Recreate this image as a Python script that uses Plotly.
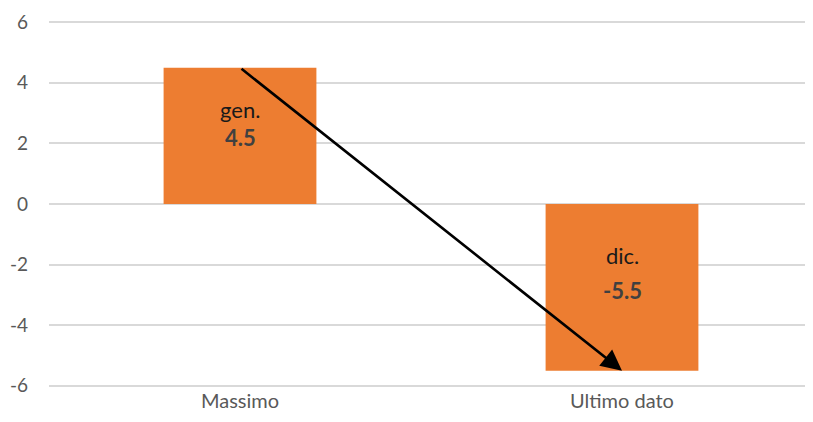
import plotly.graph_objects as go

categories = ["Massimo", "Ultimo dato"]
values = [4.5, -5.5]
months = ["gen.", "dic."]
month_label_y = [3.12, -1.7]
value_label_y = [2.2, -2.85]
tick_vals = [-6, -4, -2, 0, 2, 4, 6]
tick_text = ["-6", "-4", "-2", "0", "2", "4", "6"]

fig = go.Figure()
fig.add_trace(go.Bar(
    x=categories, y=values, marker_color="#ED7D31", width=0.4,
    marker_line_width=0, hoverinfo="skip", showlegend=False,
))

annotations = []
for i, cat in enumerate(categories):
    annotations.append(dict(x=cat, y=month_label_y[i], xref="x", yref="y",
                            text=months[i], showarrow=False,
                            font=dict(family="Lato", size=22, color="#1a1a1a")))
    annotations.append(dict(x=cat, y=value_label_y[i], xref="x", yref="y",
                            text="<b>%s</b>" % values[i], showarrow=False,
                            font=dict(family="Lato", size=22, color="#404040")))
annotations.append(dict(
    x=categories[1], y=values[1], xref="x", yref="y",
    ax=categories[0], ay=values[0], axref="x", ayref="y",
    text="", showarrow=True, arrowhead=2, arrowsize=1.6, arrowwidth=2.6,
    arrowcolor="black", standoff=0,
))

fig.update_layout(
    width=805, height=414,
    margin=dict(l=41, r=0, t=13, b=35),
    plot_bgcolor="white", paper_bgcolor="white",
    annotations=annotations,
    xaxis=dict(showgrid=False, showline=False, ticks="",
               tickfont=dict(family="Lato", size=20, color="#595959")),
    yaxis=dict(range=[-6.04, 6.04], tickvals=tick_vals, ticktext=tick_text,
               showgrid=True, gridcolor="#D9D9D9", gridwidth=1.5,
               zeroline=True, zerolinecolor="#D9D9D9", zerolinewidth=1.5,
               showline=False, ticks="", ticklabelstandoff=20,
               tickfont=dict(family="Lato", size=19, color="#595959")),
)

fig.write_html("out.html")
